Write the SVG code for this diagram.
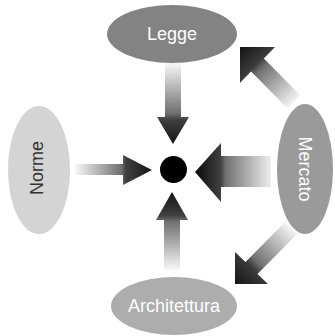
<svg xmlns="http://www.w3.org/2000/svg" width="335" height="336" viewBox="0 0 335 336">
<style>
.lbl{font-family:"Liberation Sans",Arial,sans-serif;font-size:18px;text-anchor:middle;dominant-baseline:central}
.w{fill:#ffffff}
.d{fill:#333333}
</style>
<defs>
<linearGradient id="gDown" x1="0" y1="0" x2="0" y2="1">
<stop offset="0" stop-color="#f8f8f8"/><stop offset="0.62" stop-color="#707070"/><stop offset="0.7" stop-color="#404040"/><stop offset="1" stop-color="#141414"/>
</linearGradient>
<linearGradient id="gUp" x1="0" y1="1" x2="0" y2="0">
<stop offset="0" stop-color="#f8f8f8"/><stop offset="0.62" stop-color="#707070"/><stop offset="0.7" stop-color="#404040"/><stop offset="1" stop-color="#141414"/>
</linearGradient>
<linearGradient id="gRight" x1="0" y1="0" x2="1" y2="0">
<stop offset="0" stop-color="#f8f8f8"/><stop offset="0.6" stop-color="#707070"/><stop offset="0.66" stop-color="#404040"/><stop offset="1" stop-color="#141414"/>
</linearGradient>
<linearGradient id="gLeft" x1="1" y1="0" x2="0" y2="0">
<stop offset="0" stop-color="#eeeeee"/><stop offset="0.6" stop-color="#707070"/><stop offset="0.66" stop-color="#404040"/><stop offset="1" stop-color="#0a0a0a"/>
</linearGradient>
<linearGradient id="gUL" gradientUnits="userSpaceOnUse" x1="294" y1="102" x2="240" y2="47">
<stop offset="0" stop-color="#f4f4f4"/><stop offset="0.6" stop-color="#707070"/><stop offset="0.7" stop-color="#3a3a3a"/><stop offset="1" stop-color="#141414"/>
</linearGradient>
<linearGradient id="gDL" gradientUnits="userSpaceOnUse" x1="291" y1="228" x2="235" y2="284">
<stop offset="0" stop-color="#f4f4f4"/><stop offset="0.6" stop-color="#707070"/><stop offset="0.7" stop-color="#3a3a3a"/><stop offset="1" stop-color="#141414"/>
</linearGradient>
</defs>
<rect width="335" height="336" fill="#ffffff"/>
<g id="connectors">
<polygon fill="url(#gDown)" points="165,63 181,63 181,117 189,117 173,144 157,117 165,117"/>
<polygon fill="url(#gUp)" points="164,270 180,270 180,220 188,220 172,192 156,220 164,220"/>
<polygon fill="url(#gRight)" points="75,164 123,164 123,155 152,170 123,185 123,175 75,175"/>
<polygon fill="url(#gLeft)" points="271,156 221,156 221,143 195,172 221,202 221,187 271,187"/>
<polygon fill="url(#gUL)" points="240,47 275,47 263.9,58.6 300.4,95.6 287.6,108.4 251.1,71.4 240,83"/>
<polygon fill="url(#gDL)" points="235,284 235,252 245.5,262 285,222 297,234 257.5,274 268,284"/>
</g>
<g id="hub">
<circle cx="173.5" cy="169.5" r="13.5" fill="#000000"/>
</g>
<g id="legge">
<ellipse cx="172" cy="34" rx="65" ry="29" fill="#838383"/>
<text class="lbl w" x="172" y="34">Legge</text>
</g>
<g id="norme">
<ellipse cx="39" cy="170" rx="31" ry="64" fill="#d4d4d4"/>
<text class="lbl d" transform="translate(37,168) rotate(-90)" x="0" y="0">Norme</text>
</g>
<g id="mercato">
<ellipse cx="305" cy="169" rx="28" ry="65" fill="#9a9a9a"/>
<text class="lbl w" transform="translate(305,169) rotate(90)" x="0" y="0">Mercato</text>
</g>
<g id="architettura">
<ellipse cx="174" cy="306" rx="63" ry="29" fill="#adadad"/>
<text class="lbl w" x="174" y="306">Architettura</text>
</g>
</svg>
